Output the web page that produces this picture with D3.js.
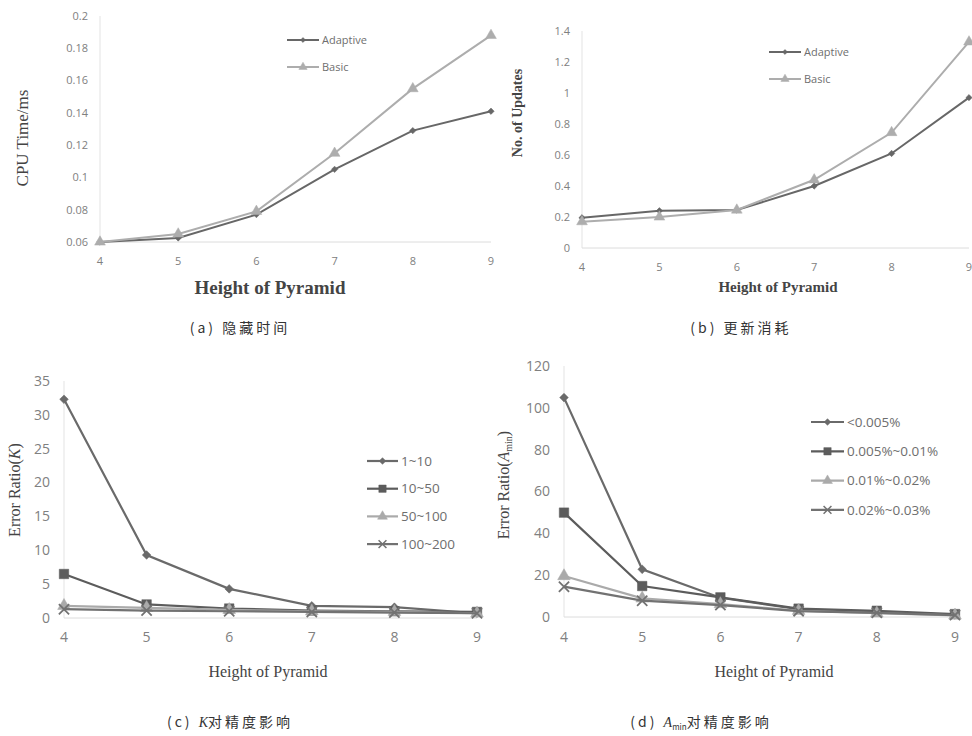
<!DOCTYPE html>
<html>
<head>
<meta charset="utf-8">
<script src="https://cdn.jsdelivr.net/npm/d3@7"></script>
<style>
  body { margin: 0; background: #fff; }
  svg { display: block; }
</style>
</head>
<body>
<script>

var width = 972,
	height = 736;

// data
var heights = [4, 5, 6, 7, 8, 9];

var cpuAdaptive = [0.06, 0.0625, 0.077, 0.105, 0.129, 0.141];
var cpuBasic    = [0.06, 0.065, 0.079, 0.115, 0.155, 0.188];
var cpuTicks    = [0.06, 0.08, 0.1, 0.12, 0.14, 0.16, 0.18, 0.2];

var updAdaptive = [0.195, 0.24, 0.245, 0.40, 0.61, 0.97];
var updBasic    = [0.17, 0.20, 0.245, 0.44, 0.745, 1.33];
var updTicks    = [0, 0.2, 0.4, 0.6, 0.8, 1, 1.2, 1.4];

var k1to10    = [32.3, 9.3, 4.3, 1.8, 1.6, 0.7];
var k10to50   = [6.5, 2.0, 1.4, 1.1, 1.0, 0.9];
var k50to100  = [1.8, 1.5, 1.2, 1.0, 0.9, 0.7];
var k100to200 = [1.3, 1.1, 1.0, 0.9, 0.8, 0.7];
var kTicks    = [0, 5, 10, 15, 20, 25, 30, 35];

var aLow   = [104.9, 22.8, 9.2, 3.7, 2.5, 1.0];
var aMid1  = [49.9, 14.8, 9.4, 4.0, 3.0, 1.4];
var aMid2  = [19.6, 8.9, 6.2, 3.0, 1.8, 0.8];
var aHigh  = [14.5, 7.8, 5.7, 2.8, 2.0, 0.9];
var aTicks = [0, 20, 40, 60, 80, 100, 120];

var svg = d3.select('body').append('svg')
			.attr('width', width)
			.attr('height', height);

var symX = d3.symbolTimes || d3.symbolX;
var symD = d3.symbolDiamond2 || d3.symbolDiamond;

function panel(cfg){

	var g = svg.append('g');

	var x = d3.scaleLinear().domain([4, 9]).range([cfg.x0, cfg.x1]);
	var y = d3.scaleLinear().domain([cfg.ticks[0], cfg.ticks[cfg.ticks.length - 1]]).range([cfg.y0, cfg.y1]);

	// axis lines
	g.append('line')
		.attr('x1', cfg.x0).attr('x2', cfg.x0)
		.attr('y1', cfg.y0).attr('y2', cfg.y1)
		.attr('stroke', '#e3e3e3').attr('stroke-width', 1);
	g.append('line')
		.attr('x1', cfg.x0).attr('x2', cfg.x1)
		.attr('y1', cfg.y0).attr('y2', cfg.y0)
		.attr('stroke', '#dcdcdc').attr('stroke-width', 1);

	g.selectAll('.ytick')
		.data(cfg.ticks)
		.enter().append('text')
		.attr('x', cfg.x0 - cfg.tickGap)
		.attr('y', function(d){ return y(d); })
		.attr('dy', '0.35em')
		.attr('text-anchor', 'end')
		.style('font-family', '"Open Sans", "DejaVu Sans", sans-serif')
		.style('font-size', cfg.tickSize + 'px')
		.style('fill', '#808080')
		.text(function(d){ return d3.format('~g')(d); });

	g.selectAll('.xtick')
		.data(heights)
		.enter().append('text')
		.attr('x', function(d){ return x(d); })
		.attr('y', cfg.xTickY)
		.attr('text-anchor', 'middle')
		.style('font-family', '"Open Sans", "DejaVu Sans", sans-serif')
		.style('font-size', cfg.tickSize + 'px')
		.style('fill', '#808080')
		.text(function(d){ return d; });

	var line = d3.line()
		.x(function(d, i){ return x(heights[i]); })
		.y(function(d){ return y(d); });

	cfg.series.forEach(function(s){
		g.append('path')
			.datum(s.values)
			.attr('d', line)
			.attr('fill', 'none')
			.attr('stroke', s.color)
			.attr('stroke-width', cfg.lineW);

		g.selectAll(null)
			.data(s.values)
			.enter().append('path')
			.attr('transform', function(d, i){ return 'translate(' + x(heights[i]) + ',' + y(d) + ')'; })
			.attr('d', d3.symbol().type(s.sym).size(s.size))
			.attr('fill', s.sym === symX ? 'none' : s.color)
			.attr('stroke', s.color)
			.attr('stroke-width', s.sym === symX ? 1.8 : 0.5);
	});

	// legend
	var lg = g.append('g');
	cfg.series.forEach(function(s, i){
		var ly = cfg.legY + i * cfg.legStep;
		lg.append('line')
			.attr('x1', cfg.legX).attr('x2', cfg.legX + cfg.legLen)
			.attr('y1', ly).attr('y2', ly)
			.attr('stroke', s.color).attr('stroke-width', cfg.lineW);
		lg.append('path')
			.attr('transform', 'translate(' + (cfg.legX + cfg.legLen / 2) + ',' + ly + ')')
			.attr('d', d3.symbol().type(s.sym).size(s.size * cfg.legScale))
			.attr('fill', s.sym === symX ? 'none' : s.color)
			.attr('stroke', s.color)
			.attr('stroke-width', s.sym === symX ? 1.5 : 0.5);
		lg.append('text')
			.attr('x', cfg.legX + cfg.legLen + 3)
			.attr('y', ly)
			.attr('dy', '0.35em')
			.style('font-family', '"Open Sans", "DejaVu Sans", sans-serif')
			.style('font-size', cfg.legSize + 'px')
			.style('fill', '#6e6e6e')
			.text(s.name);
	});

	// titles
	g.append('text')
		.attr('x', cfg.xTitle[0]).attr('y', cfg.xTitle[1])
		.attr('text-anchor', 'middle')
		.style('font-family', '"Liberation Serif", "DejaVu Serif", serif')
		.style('font-size', cfg.xTitleSize + 'px')
		.style('font-weight', cfg.bold ? 'bold' : 'normal')
		.style('fill', '#444')
		.text('Height of Pyramid');

	var yt = g.append('text')
		.attr('transform', 'translate(' + cfg.yTitle[0] + ',' + cfg.yTitle[1] + ') rotate(-90)')
		.attr('text-anchor', 'middle')
		.style('font-family', '"Liberation Serif", "DejaVu Serif", serif')
		.style('font-size', cfg.yTitleSize + 'px')
		.style('font-weight', cfg.boldY ? 'bold' : 'normal')
		.style('fill', '#444');
	cfg.yLabel(yt);

	// caption
	var cap = g.append('text')
		.attr('x', cfg.cap[0]).attr('y', cfg.cap[1])
		.attr('text-anchor', 'middle')
		.style('font-family', '"Noto Sans CJK SC", sans-serif')
		.style('font-size', '14px')
		.style('letter-spacing', '3px')
		.style('fill', '#333');
	cfg.caption(cap);
}

var dark = '#676767',
	light = '#adadad';

panel({
	x0: 100, x1: 491, y0: 242, y1: 16, ticks: cpuTicks,
	tickGap: 12, tickSize: 11, xTickY: 265, lineW: 2,
	series: [
		{ name: 'Adaptive', values: cpuAdaptive, color: dark, sym: symD, size: 26 },
		{ name: 'Basic', values: cpuBasic, color: light, sym: d3.symbolTriangle, size: 50 }
	],
	legX: 287, legY: 40, legStep: 27, legLen: 32, legSize: 11, legScale: 0.6,
	xTitle: [270, 294], xTitleSize: 19, bold: true,
	yTitle: [28, 138], yTitleSize: 17, boldY: false,
	yLabel: function(t){ t.text('CPU Time/ms'); },
	cap: [240, 333],
	caption: function(t){ t.text('(a) 隐藏时间'); }
});

panel({
	x0: 582, x1: 969, y0: 248, y1: 31, ticks: updTicks,
	tickGap: 12, tickSize: 11, xTickY: 271, lineW: 2,
	series: [
		{ name: 'Adaptive', values: updAdaptive, color: dark, sym: symD, size: 26 },
		{ name: 'Basic', values: updBasic, color: light, sym: d3.symbolTriangle, size: 50 }
	],
	legX: 769, legY: 52, legStep: 27, legLen: 32, legSize: 11, legScale: 0.6,
	xTitle: [778, 292], xTitleSize: 15, bold: true,
	yTitle: [522, 113], yTitleSize: 14, boldY: true,
	yLabel: function(t){ t.text('No. of Updates'); },
	cap: [741, 333],
	caption: function(t){ t.text('(b) 更新消耗'); }
});

panel({
	x0: 64, x1: 477, y0: 618, y1: 381, ticks: kTicks,
	tickGap: 14, tickSize: 14, xTickY: 642, lineW: 2.2,
	series: [
		{ name: '1~10', values: k1to10, color: '#6a6a6a', sym: symD, size: 48 },
		{ name: '10~50', values: k10to50, color: '#5c5c5c', sym: d3.symbolSquare, size: 90 },
		{ name: '50~100', values: k50to100, color: '#aaaaaa', sym: d3.symbolTriangle, size: 70 },
		{ name: '100~200', values: k100to200, color: '#727272', sym: symX, size: 70 }
	],
	legX: 367, legY: 461, legStep: 27.7, legLen: 31, legSize: 13.5, legScale: 0.6,
	xTitle: [268, 677], xTitleSize: 16, bold: false,
	yTitle: [20, 490], yTitleSize: 16, boldY: false,
	yLabel: function(t){
		t.append('tspan').text('Error Ratio(');
		t.append('tspan').style('font-style', 'italic').text('K');
		t.append('tspan').text(')');
	},
	cap: [230, 727],
	caption: function(t){
		t.append('tspan').text('(c) ');
		t.append('tspan').style('font-family', '"Liberation Serif", serif').style('font-style', 'italic').style('letter-spacing', '0px').text('K');
		t.append('tspan').text('对精度影响');
	}
});

panel({
	x0: 564, x1: 955, y0: 617, y1: 366, ticks: aTicks,
	tickGap: 14, tickSize: 14, xTickY: 642, lineW: 2.2,
	series: [
		{ name: '<0.005%', values: aLow, color: '#6a6a6a', sym: symD, size: 48 },
		{ name: '0.005%~0.01%', values: aMid1, color: '#5c5c5c', sym: d3.symbolSquare, size: 90 },
		{ name: '0.01%~0.02%', values: aMid2, color: '#aaaaaa', sym: d3.symbolTriangle, size: 70 },
		{ name: '0.02%~0.03%', values: aHigh, color: '#727272', sym: symX, size: 70 }
	],
	legX: 811, legY: 422, legStep: 29.3, legLen: 33, legSize: 13.5, legScale: 0.6,
	xTitle: [774, 677], xTitleSize: 16, bold: false,
	yTitle: [509, 485], yTitleSize: 16, boldY: false,
	yLabel: function(t){
		t.append('tspan').text('Error Ratio(');
		t.append('tspan').style('font-style', 'italic').text('A');
		t.append('tspan').attr('dy', '3').style('font-size', '10px').text('min');
		t.append('tspan').attr('dy', '-3').text(')');
	},
	cap: [701, 727],
	caption: function(t){
		t.append('tspan').text('(d) ');
		t.append('tspan').style('font-family', '"Liberation Serif", serif').style('font-style', 'italic').style('letter-spacing', '0px').text('A');
		t.append('tspan').attr('dy', '3').style('font-size', '8px').style('letter-spacing', '0px').text('min');
		t.append('tspan').attr('dy', '-3').text('对精度影响');
	}
});

</script>
</body>
</html>
